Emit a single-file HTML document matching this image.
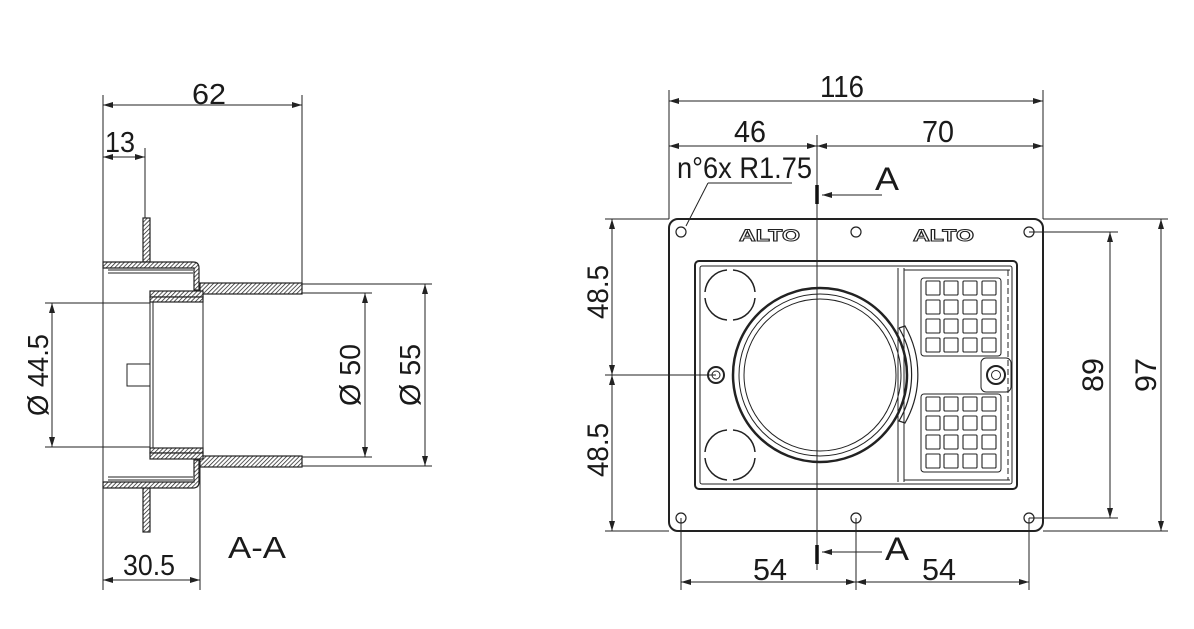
<!DOCTYPE html>
<html><head><meta charset="utf-8"><style>
html,body{margin:0;padding:0;background:#fff}
svg{display:block}
text{font-family:"Liberation Sans",sans-serif;fill:#1a1a1a}
</style></head><body>
<svg width="1194" height="629" viewBox="0 0 1194 629" xmlns="http://www.w3.org/2000/svg">
<defs>
<pattern id="h" width="3" height="3" patternUnits="userSpaceOnUse" patternTransform="rotate(45)">
<rect width="3" height="3" fill="#fff"/><line x1="0" y1="0" x2="0" y2="3" stroke="#222" stroke-width="1.5"/>
</pattern>
<marker id="ar" markerWidth="10" markerHeight="6" refX="10" refY="3" orient="auto-start-reverse" markerUnits="userSpaceOnUse">
<path d="M0,0 L10,3 L0,6 z" fill="#222"/>
</marker>
</defs>
<g stroke="#222" stroke-width="1" fill="none">
<line x1="103" y1="95" x2="103" y2="590"/>
<line x1="302" y1="95" x2="302" y2="285"/>
<line x1="145" y1="148" x2="145" y2="218"/>
<line x1="200" y1="467" x2="200" y2="590"/>
<line x1="103" y1="105" x2="302" y2="105" marker-start="url(#ar)" marker-end="url(#ar)"/>
<line x1="103" y1="157" x2="145" y2="157" marker-start="url(#ar)" marker-end="url(#ar)"/>
<line x1="103" y1="580" x2="200" y2="580" marker-start="url(#ar)" marker-end="url(#ar)"/>
<line x1="45" y1="303" x2="150" y2="303"/>
<line x1="45" y1="447" x2="150" y2="447"/>
<line x1="52" y1="303" x2="52" y2="447" marker-start="url(#ar)" marker-end="url(#ar)"/>
<line x1="302" y1="293" x2="372" y2="293"/>
<line x1="302" y1="457" x2="372" y2="457"/>
<line x1="365" y1="293" x2="365" y2="457" marker-start="url(#ar)" marker-end="url(#ar)"/>
<line x1="302" y1="284" x2="432" y2="284"/>
<line x1="302" y1="466" x2="432" y2="466"/>
<line x1="425" y1="284" x2="425" y2="466" marker-start="url(#ar)" marker-end="url(#ar)"/>
</g>
<g stroke="#222" stroke-width="1.2" fill="url(#h)">
<rect x="143" y="218" width="7" height="44"/>
<rect x="143" y="487" width="7" height="45"/>
<path d="M103,262 L193,262 Q199,262 199,268 L199,290 L194,290 L194,268 L103,268 z"/>
<path d="M103,488 L193,488 Q199,488 199,482 L199,460 L194,460 L194,482 L103,482 z"/>
<rect x="200" y="283" width="102" height="11"/>
<rect x="200" y="456" width="102" height="11"/>
<rect x="150" y="291" width="53" height="6"/>
<rect x="150" y="297" width="53" height="5"/>
<rect x="150" y="448" width="53" height="5"/>
<rect x="150" y="453" width="53" height="6"/>
</g>
<g stroke="#222" stroke-width="1" fill="none">
<line x1="108" y1="270" x2="193" y2="270"/><line x1="108" y1="273" x2="193" y2="273"/>
<line x1="108" y1="477" x2="193" y2="477"/><line x1="108" y1="480" x2="193" y2="480"/>
<line x1="150" y1="302" x2="150" y2="448"/><line x1="153" y1="302" x2="153" y2="448"/>
<line x1="203" y1="294" x2="203" y2="456"/>
<rect x="127" y="364" width="23" height="22"/>
</g>
<text x="192" y="104" font-size="29" textLength="34" lengthAdjust="spacingAndGlyphs">62</text>
<text x="105" y="152" font-size="29" textLength="30" lengthAdjust="spacingAndGlyphs">13</text>
<text x="123" y="575" font-size="29" textLength="52" lengthAdjust="spacingAndGlyphs">30.5</text>
<text x="228" y="558" font-size="31" textLength="58" lengthAdjust="spacingAndGlyphs">A-A</text>
<text transform="translate(48,375) rotate(-90)" text-anchor="middle" font-size="29" textLength="82" lengthAdjust="spacingAndGlyphs">Ø 44.5</text>
<text transform="translate(360,375) rotate(-90)" text-anchor="middle" font-size="29" textLength="62" lengthAdjust="spacingAndGlyphs">Ø 50</text>
<text transform="translate(420,375) rotate(-90)" text-anchor="middle" font-size="29" textLength="62" lengthAdjust="spacingAndGlyphs">Ø 55</text>

<g stroke="#222" stroke-width="1" fill="none">
<line x1="669" y1="90" x2="669" y2="219"/>
<line x1="1043" y1="90" x2="1043" y2="219"/>
<line x1="669" y1="101" x2="1043" y2="101" marker-start="url(#ar)" marker-end="url(#ar)"/>
<line x1="669" y1="146" x2="817" y2="146" marker-start="url(#ar)" marker-end="url(#ar)"/>
<line x1="817" y1="146" x2="1043" y2="146" marker-start="url(#ar)" marker-end="url(#ar)"/>
<line x1="817" y1="135" x2="817" y2="570"/>
<line x1="792" y1="183" x2="708" y2="183"/><line x1="708" y1="183" x2="686" y2="226"/>
<line x1="882" y1="195" x2="822" y2="195" marker-end="url(#ar)"/>
<line x1="882" y1="552" x2="822" y2="552" marker-end="url(#ar)"/>
<line x1="605" y1="219" x2="669" y2="219"/>
<line x1="605" y1="531" x2="669" y2="531"/>
<line x1="605" y1="375" x2="716" y2="375"/>
<line x1="612" y1="219" x2="612" y2="375" marker-start="url(#ar)" marker-end="url(#ar)"/>
<line x1="612" y1="375" x2="612" y2="531" marker-start="url(#ar)" marker-end="url(#ar)"/>
<line x1="1029" y1="232" x2="1118" y2="232"/>
<line x1="1029" y1="518" x2="1118" y2="518"/>
<line x1="1043" y1="219" x2="1168" y2="219"/>
<line x1="1043" y1="531" x2="1168" y2="531"/>
<line x1="1110" y1="232" x2="1110" y2="518" marker-start="url(#ar)" marker-end="url(#ar)"/>
<line x1="1161" y1="219" x2="1161" y2="531" marker-start="url(#ar)" marker-end="url(#ar)"/>
<line x1="681" y1="518" x2="681" y2="590"/>
<line x1="856" y1="518" x2="856" y2="590"/>
<line x1="1029" y1="518" x2="1029" y2="590"/>
<line x1="681" y1="582" x2="856" y2="582" marker-start="url(#ar)" marker-end="url(#ar)"/>
<line x1="856" y1="582" x2="1029" y2="582" marker-start="url(#ar)" marker-end="url(#ar)"/>
</g>
<line x1="817" y1="185" x2="817" y2="204" stroke="#111" stroke-width="3.5"/>
<line x1="817" y1="545" x2="817" y2="564" stroke="#111" stroke-width="3.5"/>
<text x="820" y="97" font-size="31" textLength="44" lengthAdjust="spacingAndGlyphs">116</text>
<text x="734" y="142" font-size="31" textLength="32" lengthAdjust="spacingAndGlyphs">46</text>
<text x="922" y="142" font-size="31" textLength="32" lengthAdjust="spacingAndGlyphs">70</text>
<text x="677" y="178" font-size="30" textLength="135" lengthAdjust="spacingAndGlyphs">n°6x R1.75</text>
<text x="875" y="190" font-size="32" textLength="24" lengthAdjust="spacingAndGlyphs">A</text>
<text x="885" y="560" font-size="32" textLength="24" lengthAdjust="spacingAndGlyphs">A</text>
<text x="753" y="580" font-size="31" textLength="34" lengthAdjust="spacingAndGlyphs">54</text>
<text x="922" y="580" font-size="31" textLength="34" lengthAdjust="spacingAndGlyphs">54</text>
<text transform="translate(608,292) rotate(-90)" text-anchor="middle" font-size="30" textLength="54" lengthAdjust="spacingAndGlyphs">48.5</text>
<text transform="translate(608,450) rotate(-90)" text-anchor="middle" font-size="30" textLength="54" lengthAdjust="spacingAndGlyphs">48.5</text>
<text transform="translate(1103,375) rotate(-90)" text-anchor="middle" font-size="30" textLength="34" lengthAdjust="spacingAndGlyphs">89</text>
<text transform="translate(1156,375) rotate(-90)" text-anchor="middle" font-size="30" textLength="34" lengthAdjust="spacingAndGlyphs">97</text>

<g stroke="#222" fill="none">
<rect x="669" y="219" width="374" height="312" rx="9" stroke-width="2"/>
<g stroke-width="1.2">
<circle cx="681" cy="232" r="5"/><circle cx="856" cy="232" r="5"/><circle cx="1029" cy="232" r="5"/>
<circle cx="681" cy="518" r="5"/><circle cx="856" cy="518" r="5"/><circle cx="1029" cy="518" r="5"/>
</g>
<rect x="695" y="261" width="322" height="228" rx="4" stroke-width="2"/>
<rect x="700" y="266" width="312" height="218" rx="2" stroke-width="1"/>
<circle cx="820" cy="375" r="87" stroke-width="2.5"/>
<circle cx="820" cy="375" r="81" stroke-width="1"/>
<circle cx="820" cy="375" r="76" stroke-width="1"/>
<path d="M899,328 L905,326 A98,98 0 0 1 905,423 L899,421 A92,92 0 0 0 899,328" stroke-width="1.2"/>
<line x1="898" y1="268" x2="898" y2="482"/><line x1="904" y1="268" x2="904" y2="482"/>
<line x1="904" y1="270" x2="1010" y2="270"/><line x1="904" y1="480" x2="1010" y2="480"/>
<line x1="1008" y1="270" x2="1008" y2="480" stroke-dasharray="6 3"/>
<circle cx="716" cy="375" r="8" stroke-width="2"/><circle cx="716" cy="375" r="4"/>
<rect x="981" y="358" width="30" height="34" rx="5"/>
<circle cx="996" cy="375" r="9" stroke-width="2"/><circle cx="996" cy="375" r="4.5"/>
<g stroke-width="1.5">
<path d="M727,270 A24,24 0 0 0 705,292"/><path d="M733,270 A24,24 0 0 1 755,292"/>
<path d="M705,298 A24,24 0 0 0 727,320"/><path d="M755,298 A24,24 0 0 1 733,320"/>
<path d="M727,430 A24,24 0 0 0 705,452"/><path d="M733,430 A24,24 0 0 1 755,452"/>
<path d="M705,458 A24,24 0 0 0 727,480"/><path d="M755,458 A24,24 0 0 1 733,480"/>
</g>
<rect x="921" y="278" width="80" height="78" rx="3"/>
<rect x="921" y="394" width="80" height="78" rx="3"/>
</g>
<g fill="none" stroke="#222" stroke-width="1.1">
<rect x="926" y="281" width="14" height="14" rx="1"/><rect x="944" y="281" width="14" height="14" rx="1"/><rect x="963" y="281" width="14" height="14" rx="1"/><rect x="982" y="281" width="14" height="14" rx="1"/>
<rect x="926" y="300" width="14" height="14" rx="1"/><rect x="944" y="300" width="14" height="14" rx="1"/><rect x="963" y="300" width="14" height="14" rx="1"/><rect x="982" y="300" width="14" height="14" rx="1"/>
<rect x="926" y="319" width="14" height="14" rx="1"/><rect x="944" y="319" width="14" height="14" rx="1"/><rect x="963" y="319" width="14" height="14" rx="1"/><rect x="982" y="319" width="14" height="14" rx="1"/>
<rect x="926" y="338" width="14" height="14" rx="1"/><rect x="944" y="338" width="14" height="14" rx="1"/><rect x="963" y="338" width="14" height="14" rx="1"/><rect x="982" y="338" width="14" height="14" rx="1"/>
<rect x="926" y="397" width="14" height="14" rx="1"/><rect x="944" y="397" width="14" height="14" rx="1"/><rect x="963" y="397" width="14" height="14" rx="1"/><rect x="982" y="397" width="14" height="14" rx="1"/>
<rect x="926" y="416" width="14" height="14" rx="1"/><rect x="944" y="416" width="14" height="14" rx="1"/><rect x="963" y="416" width="14" height="14" rx="1"/><rect x="982" y="416" width="14" height="14" rx="1"/>
<rect x="926" y="435" width="14" height="14" rx="1"/><rect x="944" y="435" width="14" height="14" rx="1"/><rect x="963" y="435" width="14" height="14" rx="1"/><rect x="982" y="435" width="14" height="14" rx="1"/>
<rect x="926" y="454" width="14" height="14" rx="1"/><rect x="944" y="454" width="14" height="14" rx="1"/><rect x="963" y="454" width="14" height="14" rx="1"/><rect x="982" y="454" width="14" height="14" rx="1"/>
</g>
<text x="739" y="241" font-size="17" font-weight="bold" style="fill:#fff;stroke:#222;stroke-width:1" textLength="61" lengthAdjust="spacingAndGlyphs">ALTO</text>
<text x="913" y="241" font-size="17" font-weight="bold" style="fill:#fff;stroke:#222;stroke-width:1" textLength="61" lengthAdjust="spacingAndGlyphs">ALTO</text>
</svg>
</body></html>
